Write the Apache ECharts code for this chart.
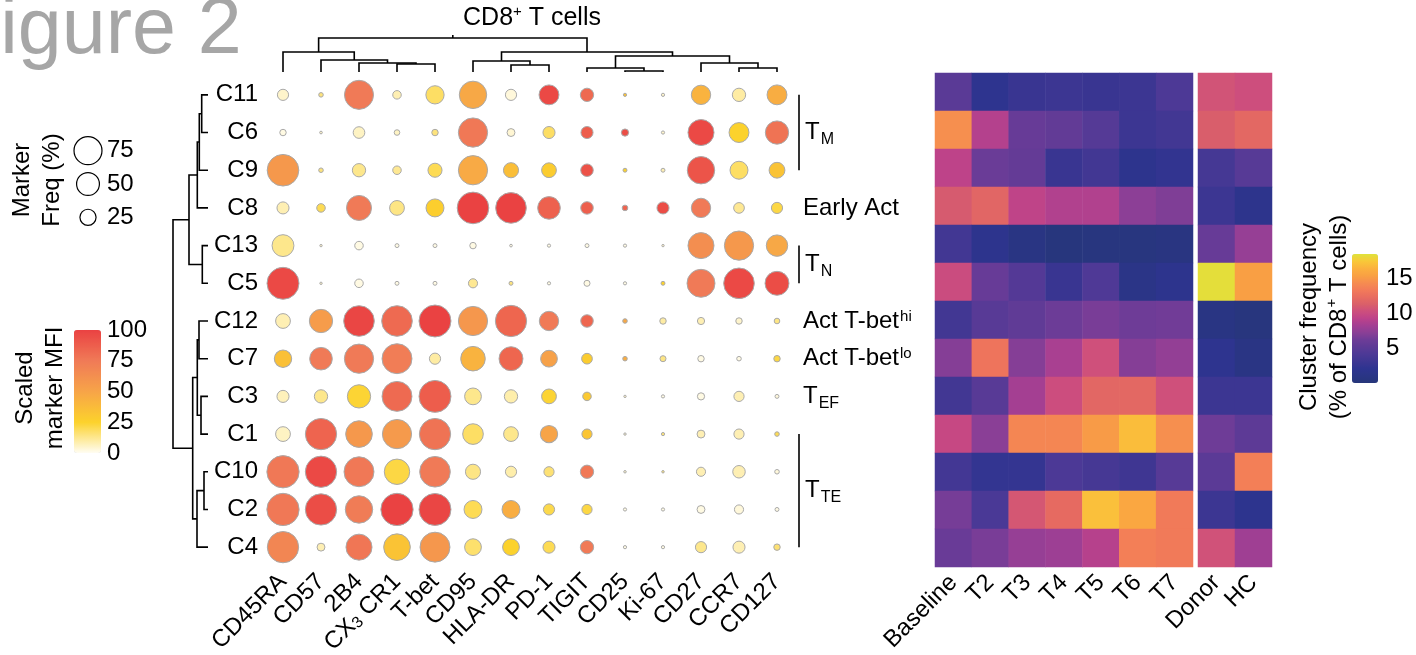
<!DOCTYPE html>
<html>
<head>
<meta charset="utf-8">
<script src="https://cdn.jsdelivr.net/npm/echarts@6/dist/echarts.min.js"></script>
<style>
html, body { margin: 0; padding: 0; background: #fff; }
#chart { width: 1416px; height: 655px; }
</style>
</head>
<body>
<div id="chart"></div>
<script>
const FONT = '"Liberation Sans", Arial, Helvetica, sans-serif';

// dot plot: markers (columns) and clusters (rows), in dendrogram order
const markers = ['CD45RA', 'CD57', '2B4', 'CX3CR1', 'T-bet', 'CD95', 'HLA-DR', 'PD-1', 'TIGIT', 'CD25', 'Ki-67', 'CD27', 'CCR7', 'CD127'];
const clusters = ['C11', 'C6', 'C9', 'C8', 'C13', 'C5', 'C12', 'C7', 'C3', 'C1', 'C10', 'C2', 'C4'];

// marker frequency (% of cells in cluster), rows = clusters
const markerFreq = [
  [12, 2, 81, 7, 32, 72, 12, 38, 17, 1, 1, 36, 17, 38],
  [4, 0.7, 13, 3, 4, 82, 6, 14, 14, 5, 1, 65, 38, 52],
  [96, 2, 17, 7, 19, 82, 22, 21, 15, 1.5, 1.5, 72, 31, 24],
  [14, 7, 60, 21, 31, 96, 90, 49, 15, 3, 14, 36, 11, 12],
  [46, 0.4, 7, 1.5, 1.5, 4, 0.7, 1, 1.5, 1, 0.4, 65, 82, 44],
  [98, 0.2, 7, 1.5, 1.5, 8, 1.5, 1, 3.5, 1, 1.5, 75, 90, 55],
  [21, 52, 90, 90, 98, 82, 94, 36, 15, 2, 4, 5, 4, 3],
  [29, 49, 82, 86, 12, 58, 55, 27, 11, 2, 3.5, 4, 2, 4],
  [14, 17, 52, 86, 98, 27, 17, 21, 7, 0.4, 1, 5, 10, 1.5],
  [21, 94, 68, 82, 94, 41, 21, 29, 10, 0.4, 1, 6, 10, 2],
  [100, 94, 86, 62, 90, 22, 12, 10, 17, 0.6, 0.6, 8, 15, 2],
  [100, 94, 72, 100, 98, 31, 31, 12, 10, 1, 1, 6, 8, 1.5],
  [94, 6, 65, 68, 86, 27, 27, 14, 17, 1, 1, 12, 14, 4]
];

// scaled marker MFI (0-100), rows = clusters
const markerMFI = [
  [5, 15, 75, 8, 18, 48, 3, 97, 82, 35, 5, 42, 10, 45],
  [2, 5, 6, 6, 15, 76, 4, 18, 88, 95, 5, 97, 25, 78],
  [57, 15, 13, 12, 20, 47, 36, 28, 93, 25, 8, 92, 18, 33],
  [8, 20, 75, 14, 27, 100, 100, 86, 87, 85, 95, 75, 12, 22],
  [13, 5, 2, 2, 2, 2, 2, 2, 2, 2, 5, 63, 57, 48],
  [97, 5, 2, 2, 2, 12, 15, 2, 2, 2, 25, 75, 97, 95],
  [8, 55, 98, 82, 100, 58, 84, 75, 84, 48, 10, 8, 5, 14],
  [35, 75, 75, 73, 10, 42, 84, 52, 28, 45, 14, 2, 2, 22],
  [7, 13, 24, 82, 88, 13, 9, 24, 30, 5, 2, 2, 8, 3],
  [6, 85, 57, 56, 78, 18, 13, 50, 32, 5, 15, 8, 8, 20],
  [76, 97, 76, 22, 75, 14, 9, 16, 76, 5, 15, 8, 8, 3],
  [76, 95, 74, 100, 98, 20, 45, 21, 22, 2, 2, 2, 3, 2],
  [68, 8, 77, 33, 58, 17, 25, 20, 75, 2, 2, 13, 8, 16]
];

const sizeLegend = [75, 50, 25];

// heatmap: cluster frequency (% of CD8+ T cells)
const timepoints = ['Baseline', 'T2', 'T3', 'T4', 'T5', 'T6', 'T7'];
const controls = ['Donor', 'HC'];
const freqTime = [
  [5, 2, 2.8, 3, 2.8, 3, 4.2],
  [14.5, 8.9, 5.8, 5.5, 4.7, 3, 3.4],
  [9.3, 6, 5.6, 2.8, 3.4, 1.8, 2.3],
  [11, 11.8, 9.4, 8.8, 8.8, 7.3, 6.8],
  [3.4, 1.8, 0.8, 0.3, 0.5, 0.5, 0.7],
  [10.1, 5.8, 4.6, 2.8, 4.3, 1.2, 1.8],
  [3.4, 4.9, 5.4, 6.1, 6.6, 6.2, 6.3],
  [7, 12.9, 7, 8.5, 10.4, 7, 7.6],
  [3.4, 4.9, 8.3, 10.2, 11.9, 12, 10.4],
  [9.8, 7.2, 14, 14, 15.1, 17, 14.5],
  [3.5, 2.4, 2.5, 4.1, 3.7, 3.2, 4.8],
  [6.5, 4, 10.8, 12.2, 17.1, 15.8, 13.3],
  [5.9, 6.6, 7.7, 8, 9, 13.6, 13.3]
];
const freqCtrl = [
  [10.6, 10.3], [11.2, 12], [3.6, 4.8], [3, 1.7], [5.8, 7.7], [18.3, 15.3], [0.8, 0.4],
  [2, 0.9], [3, 3], [6.2, 5.2], [5.1, 13.6], [3, 1.9], [10.5, 8.1]
];

// dendrograms, hclust style: negative = leaf -(index+1), positive = earlier merge (1-based), then height
const markerMerges = [
  [-4, -5, 8], [-3, 1, 9], [-2, 2, 12], [-1, 3, 20],
  [-7, -8, 7], [-6, 5, 11],
  [-10, -11, 1], [-9, 7, 4], [-13, -14, 4], [-12, 9, 9], [8, 10, 16],
  [6, 11, 20], [4, 12, 34]
];
const clusterMerges = [
  [-1, -2, 6.3], [1, -3, 8.7], [2, -4, 10.7], [-5, -6, 5.7], [3, 4, 19],
  [-7, -8, 9], [-9, -10, 7], [6, 7, 10.7], [-11, -12, 4], [9, -13, 11], [8, 10, 15.3],
  [5, 11, 35]
];

// cell-type annotations on the right of the dot plot
const groupLabels = ['{t|T}{s|M}', 'Early Act', '{t|T}{s|N}', 'Act T-bet{p|hi}', 'Act T-bet{p|lo}', '{t|T}{s|EF}', '{t|T}{s|TE}'];
const groupFirst = [0, 3, 4, 6, 7, 8, 9];
const groupLast = [2, 3, 5, 6, 7, 8, 12];

const mfiColors = ['#fffdf3', '#fcd22c', '#f7a448', '#f07a57', '#ea4242'];
const heatColors = ['#26367a', '#2a3585', '#2e3490', '#3d3692', '#4c3996', '#5c3a96', '#6d3c97', '#8a3f96', '#a23f93',
  '#bd428a', '#cd4e7d', '#da6069', '#e86c60', '#f27b59', '#f68d50', '#f9a143', '#fbb13e', '#f9c839', '#dfe33a'];

function treeSegments(merges) {
  const pos = [], hgt = [];
  const at = c => c < 0 ? [-c - 1, 0] : [pos[c - 1], hgt[c - 1]];
  return merges.map(([a, b, h]) => {
    const [pa, ha] = at(a), [pb, hb] = at(b);
    pos.push((pa + pb) / 2);
    hgt.push(h);
    return [pa, ha, pb, hb, h];
  });
}
const markerSegs = treeSegments(markerMerges);
const clusterSegs = treeSegments(clusterMerges);

const dotData = markerFreq.flatMap((row, r) => row.map((f, c) => [c, r, f, markerMFI[r][c]]));
const timeData = freqTime.flatMap((row, r) => row.map((v, c) => [c, r, v]));
const ctrlData = freqCtrl.flatMap((row, r) => row.map((v, c) => [c, r, v]));

const dotSize = f => Math.max(2.4, 3.23 * Math.sqrt(f));
const lineStyle = { stroke: '#000', lineWidth: 1.6, fill: 'none' };
const richText = {
  t: { fontSize: 24, fontFamily: FONT, fill: '#000', color: '#000', lineHeight: 30 },
  s: { fontSize: 16, fontFamily: FONT, fill: '#000', color: '#000', lineHeight: 16, verticalAlign: 'bottom', padding: [14, 0, 0, 1] },
  p: { fontSize: 15, fontFamily: FONT, fill: '#000', color: '#000', lineHeight: 15, verticalAlign: 'top', padding: [0, 0, 12, 1] },
  a: { fontSize: 24, fontFamily: FONT, fill: '#000', color: '#000', lineHeight: 30 }
};

const catLabel = extra => Object.assign({ color: '#000', fontSize: 24, fontFamily: FONT, interval: 0 }, extra);
const hidden = { axisLine: { show: false }, axisTick: { show: false }, splitLine: { show: false } };
const grid = (left, top, width, height) => ({ left, top, width, height, containLabel: false, outerBoundsMode: 'none' });

const chart = echarts.init(document.getElementById('chart'));
chart.setOption({
  animation: false,
  textStyle: { fontFamily: FONT },
  grid: [
    grid(264, 76, 532, 490),   // dot plot
    grid(264, 30, 532, 42),    // marker dendrogram
    grid(160, 76, 48, 490),    // cluster dendrogram
    grid(935, 73, 258, 494),   // heatmap time points
    grid(1198, 73, 74, 494),   // heatmap donor / HC
    grid(70, 134, 36, 100),    // size legend
    grid(74, 330, 27, 123),    // MFI colour bar ticks
    grid(1352, 254, 26, 129)   // frequency colour bar ticks
  ],
  xAxis: [
    Object.assign({ type: 'category', gridIndex: 0, data: markers, boundaryGap: true,
      axisLabel: catLabel({ rotate: 45, margin: 12,
        formatter: v => v === 'CX3CR1' ? 'CX{s|3} CR1' : v,
        rich: { s: { fontSize: 16, color: '#000', fontFamily: FONT, lineHeight: 16, verticalAlign: 'bottom', padding: [12, 0, 0, 0] } } }) }, hidden),
    { type: 'value', gridIndex: 1, min: -0.5, max: markers.length - 0.5, show: false },
    { type: 'value', gridIndex: 2, min: 0, max: 48, inverse: true, show: false },
    Object.assign({ type: 'category', gridIndex: 3, data: timepoints, axisLabel: catLabel({ rotate: 45, margin: 12 }) }, hidden),
    Object.assign({ type: 'category', gridIndex: 4, data: controls, axisLabel: catLabel({ rotate: 45, margin: 12 }) }, hidden),
    { type: 'category', gridIndex: 5, data: ['size'], show: false },
    { type: 'value', gridIndex: 6, show: false },
    { type: 'value', gridIndex: 7, show: false }
  ],
  yAxis: [
    Object.assign({ type: 'category', gridIndex: 0, data: clusters, inverse: true, axisLabel: catLabel({ margin: 6 }) }, hidden),
    { type: 'value', gridIndex: 1, min: 0, max: 42, show: false },
    { type: 'value', gridIndex: 2, min: -0.5, max: clusters.length - 0.5, inverse: true, show: false },
    { type: 'category', gridIndex: 3, data: clusters, inverse: true, show: false },
    { type: 'category', gridIndex: 4, data: clusters, inverse: true, show: false },
    Object.assign({ type: 'category', gridIndex: 5, data: sizeLegend.map(String), inverse: true, position: 'right',
      axisLabel: catLabel({ margin: 1 }) }, hidden),
    { type: 'value', gridIndex: 6, min: 0, max: 100, interval: 25, position: 'right',
      axisLine: { show: false }, splitLine: { show: false },
      axisTick: { show: true, inside: true, length: 4, lineStyle: { color: '#fff', width: 1 } },
      axisLabel: { color: '#000', fontSize: 24, fontFamily: FONT, margin: 6 } },
    { type: 'value', gridIndex: 6, min: 0, max: 100, interval: 25, position: 'left',
      axisLine: { show: false }, splitLine: { show: false }, axisLabel: { show: false },
      axisTick: { show: true, inside: true, length: 4, lineStyle: { color: '#fff', width: 1 } } },
    { type: 'value', gridIndex: 7, min: 0, max: 18.5, interval: 5, position: 'right',
      axisLine: { show: false }, splitLine: { show: false },
      axisTick: { show: true, inside: true, length: 4, lineStyle: { color: '#fff', width: 1 } },
      axisLabel: { color: '#000', fontSize: 24, fontFamily: FONT, margin: 8, showMinLabel: false, showMaxLabel: false } },
    { type: 'value', gridIndex: 7, min: 0, max: 18.5, interval: 5, position: 'left',
      axisLine: { show: false }, splitLine: { show: false }, axisLabel: { show: false },
      axisTick: { show: true, inside: true, length: 4, lineStyle: { color: '#fff', width: 1 } } }
  ],
  visualMap: [
    { type: 'continuous', seriesIndex: 0, dimension: 3, min: 0, max: 100, inRange: { color: mfiColors },
      calculable: false, show: true, left: 74, top: 330, itemWidth: 27, itemHeight: 123, padding: 0 },
    { type: 'continuous', seriesIndex: [3, 4], dimension: 2, min: 0, max: 18.5, inRange: { color: heatColors },
      calculable: false, show: true, left: 1352, top: 254, itemWidth: 26, itemHeight: 129, padding: 0 }
  ],
  series: [
    { type: 'scatter', xAxisIndex: 0, yAxisIndex: 0, data: dotData, silent: true,
      symbolSize: v => dotSize(v[2]),
      itemStyle: { opacity: 1, borderColor: '#a9a9a9', borderWidth: 1 } },
    { type: 'custom', xAxisIndex: 1, yAxisIndex: 1, data: markerSegs, silent: true,
      renderItem: (params, api) => {
        const p1 = api.value(0), h1 = api.value(1), p2 = api.value(2), h2 = api.value(3), h = api.value(4);
        const children = [{ type: 'polyline', shape: { points: [api.coord([p1, h1]), api.coord([p1, h]), api.coord([p2, h]), api.coord([p2, h2])] }, style: lineStyle }];
        if (params.dataIndex === markerSegs.length - 1) {
          const a = api.coord([(p1 + p2) / 2, h]), b = api.coord([(p1 + p2) / 2, h + 3]);
          children.push({ type: 'line', shape: { x1: a[0], y1: a[1], x2: b[0], y2: b[1] }, style: lineStyle });
        }
        return { type: 'group', children };
      } },
    { type: 'custom', xAxisIndex: 2, yAxisIndex: 2, data: clusterSegs, silent: true,
      renderItem: (params, api) => {
        const p1 = api.value(0), h1 = api.value(1), p2 = api.value(2), h2 = api.value(3), h = api.value(4);
        return { type: 'polyline', shape: { points: [api.coord([h1, p1]), api.coord([h, p1]), api.coord([h, p2]), api.coord([h2, p2])] }, style: lineStyle };
      } },
    { type: 'heatmap', xAxisIndex: 3, yAxisIndex: 3, data: timeData, silent: true },
    { type: 'heatmap', xAxisIndex: 4, yAxisIndex: 4, data: ctrlData, silent: true },
    { type: 'scatter', xAxisIndex: 5, yAxisIndex: 5, data: sizeLegend.map((v, i) => [0, i, v]), silent: true,
      symbolSize: v => dotSize(v[2]),
      itemStyle: { color: '#fff', opacity: 1, borderColor: '#000', borderWidth: 1.2 } },
    { type: 'custom', xAxisIndex: 0, yAxisIndex: 0, silent: true,
      data: groupFirst.map((f, i) => [f, groupLast[i], i]),
      renderItem: (params, api) => {
        const f = api.value(0), l = api.value(1), i = api.value(2);
        const top = api.coord([markers.length - 1, f]), bot = api.coord([markers.length - 1, l]);
        const x = top[0] + 22;
        const children = [];
        if (l > f) children.push({ type: 'line', shape: { x1: x, y1: top[1], x2: x, y2: bot[1] }, style: lineStyle });
        children.push({ type: 'text', style: { text: groupLabels[i], x: x + (l > f ? 6 : 4), y: (top[1] + bot[1]) / 2,
          align: 'left', verticalAlign: 'middle', fill: '#000', fontSize: 24, fontFamily: FONT, rich: richText } });
        return { type: 'group', children };
      } }
  ],
  graphic: [
    { type: 'text', x: -48, y: -8, silent: true,
      style: { text: 'Figure 2', fontSize: 79, fontFamily: FONT, fill: '#a6a6a6', align: 'left', verticalAlign: 'top' } },
    { type: 'text', x: 532, y: 18, silent: true,
      style: { text: '{a|CD8}{p|+}{a| T cells}', align: 'center', verticalAlign: 'middle', fill: '#000', rich: {
        a: { fontSize: 25, fontFamily: FONT, fill: '#000', lineHeight: 28 },
        p: { fontSize: 15, fontFamily: FONT, fill: '#000', lineHeight: 15, verticalAlign: 'top', padding: [0, 0, 11, 0] } } } },
    { type: 'text', x: 37, y: 180, rotation: Math.PI / 2, silent: true,
      style: { text: 'Marker\nFreq (%)', align: 'center', verticalAlign: 'middle', fontSize: 24, lineHeight: 30, fontFamily: FONT, fill: '#000' } },
    { type: 'text', x: 40, y: 388, rotation: Math.PI / 2, silent: true,
      style: { text: 'Scaled\nmarker MFI', align: 'center', verticalAlign: 'middle', fontSize: 24, lineHeight: 30, fontFamily: FONT, fill: '#000' } },
    { type: 'text', x: 1324, y: 317, rotation: Math.PI / 2, silent: true,
      style: { text: '{a|Cluster frequency}\n{a|(% of CD8}{p|+}{a| T cells)}', align: 'center', verticalAlign: 'middle', fill: '#000', rich: richText } }
  ]
});
</script>
</body>
</html>
